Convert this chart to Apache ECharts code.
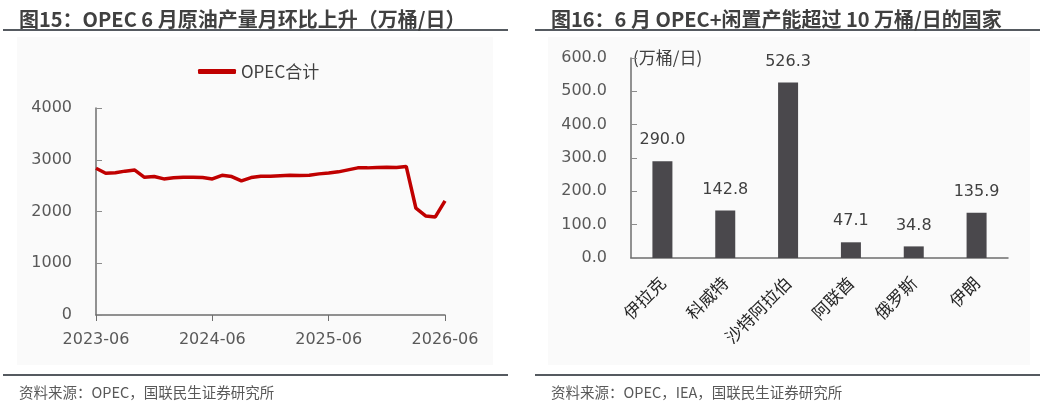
<!DOCTYPE html>
<html>
<head>
<meta charset="utf-8">
<script src="https://cdn.jsdelivr.net/npm/echarts@6/dist/echarts.min.js"></script>
<style>
html,body{margin:0;padding:0;background:#fff;}
#main{width:1047px;height:410px;}
</style>
</head>
<body>
<div id="main"></div>
<script>
"use strict";

/*****Data start*****/
var months = [
	'2023-06','2023-07','2023-08','2023-09','2023-10','2023-11','2023-12',
	'2024-01','2024-02','2024-03','2024-04','2024-05','2024-06','2024-07','2024-08','2024-09','2024-10','2024-11','2024-12',
	'2025-01','2025-02','2025-03','2025-04','2025-05','2025-06','2025-07','2025-08','2025-09','2025-10','2025-11','2025-12',
	'2026-01','2026-02','2026-03','2026-04','2026-05','2026-06'
];
var opecTotal = [
	2835, 2740, 2750, 2780, 2800, 2660, 2675,
	2630, 2650, 2663, 2663, 2655, 2630, 2700, 2675, 2590, 2655, 2680, 2680,
	2690, 2700, 2695, 2700, 2727, 2746, 2766, 2805, 2843, 2843, 2850, 2856,
	2850, 2870, 2063, 1915, 1895, 2205
];
var countries = ['伊拉克', '科威特', '沙特阿拉伯', '阿联酋', '俄罗斯', '伊朗'];
var spareCapacity = [290.0, 142.8, 526.3, 47.1, 34.8, 135.9];
/*****Data end*****/

var font = "'Noto Sans CJK SC', 'Noto Sans', sans-serif";
var numFont = "'DejaVu Sans', 'Noto Sans CJK SC', sans-serif";
var axisColor = '#595959';

var chart = echarts.init(document.getElementById('main'));
var option = {
	animation: false,
	textStyle: { fontFamily: font },
	title: [
		{
			text: '图15：OPEC 6 月原油产量月环比上升（万桶/日）',
			left: 14, top: 4,
			textStyle: { fontSize: 20, fontWeight: 'bold', color: '#404040', fontFamily: font }
		},
		{
			text: '图16：6 月 OPEC+闲置产能超过 10 万桶/日的国家',
			left: 546, top: 4,
			textStyle: { fontSize: 20, fontWeight: 'bold', color: '#404040', fontFamily: font }
		},
		{
			text: '资料来源：OPEC，国联民生证券研究所',
			left: 14, top: 380,
			textStyle: { fontSize: 14.5, fontWeight: 'normal', color: '#595959', fontFamily: font }
		},
		{
			text: '资料来源：OPEC，IEA，国联民生证券研究所',
			left: 546, top: 380,
			textStyle: { fontSize: 14.5, fontWeight: 'normal', color: '#595959', fontFamily: font }
		}
	],
	graphic: [
		{ type: 'rect', z: -10, shape: { x: 17, y: 37, width: 476, height: 328 }, style: { fill: '#fafafa' } },
		{ type: 'rect', z: -10, shape: { x: 548, y: 37, width: 482, height: 328 }, style: { fill: '#fafafa' } },
		{ type: 'line', shape: { x1: 3, y1: 30, x2: 508, y2: 30 }, style: { stroke: '#555a60', lineWidth: 2 } },
		{ type: 'line', shape: { x1: 535, y1: 30, x2: 1040, y2: 30 }, style: { stroke: '#555a60', lineWidth: 2 } },
		{ type: 'line', shape: { x1: 3, y1: 375, x2: 508, y2: 375 }, style: { stroke: '#555a60', lineWidth: 2 } },
		{ type: 'line', shape: { x1: 535, y1: 375, x2: 1040, y2: 375 }, style: { stroke: '#555a60', lineWidth: 2 } },
		{
			type: 'text', left: 633, top: 49,
			style: { text: '(万桶/日)', fontSize: 17, fill: '#404040', fontFamily: font }
		}
	],
	legend: {
		data: ['OPEC合计'],
		left: 193, top: 58,
		icon: 'roundRect',
		itemWidth: 38, itemHeight: 5,
		itemGap: 6,
		textStyle: { fontSize: 17, color: '#404040', fontFamily: font }
	},
	grid: [
		{ left: 96, top: 108, width: 349, height: 207, containLabel: false },
		{ left: 631, top: 58, width: 377, height: 200, containLabel: false }
	],
	xAxis: [
		{
			gridIndex: 0,
			type: 'category',
			data: months,
			boundaryGap: false,
			axisLine: { lineStyle: { color: '#6e6e6e', width: 1.5 } },
			axisTick: { interval: 11, length: 6, lineStyle: { color: '#6e6e6e' } },
			axisLabel: { interval: 11, fontSize: 16, color: axisColor, margin: 17, fontFamily: numFont }
		},
		{
			gridIndex: 1,
			type: 'category',
			data: countries,
			axisLine: { lineStyle: { color: '#6e6e6e', width: 1.5 } },
			axisTick: { show: false },
			axisLabel: { rotate: 45, fontSize: 17, color: '#262626', margin: 22, fontFamily: font }
		}
	],
	yAxis: [
		{
			gridIndex: 0,
			type: 'value',
			min: 0, max: 4000, interval: 1000,
			axisLine: { show: true, lineStyle: { color: '#6e6e6e', width: 1.5 } },
			axisTick: { show: true, inside: true, length: 6, lineStyle: { color: '#8c8c8c' } },
			splitLine: { show: false },
			axisLabel: {
				fontSize: 16, color: axisColor, margin: 24, fontFamily: numFont,
				formatter: function (v) { return String(v); }
			}
		},
		{
			gridIndex: 1,
			type: 'value',
			min: 0, max: 600, interval: 100,
			axisLine: { show: true, lineStyle: { color: '#6e6e6e', width: 1.5 } },
			axisTick: { show: true, inside: true, length: 6, lineStyle: { color: '#8c8c8c' } },
			splitLine: { show: false },
			axisLabel: {
				fontSize: 16, color: axisColor, margin: 24, fontFamily: numFont,
				formatter: function (v) { return v.toFixed(1); }
			}
		}
	],
	series: [
		{
			name: 'OPEC合计',
			type: 'line',
			xAxisIndex: 0, yAxisIndex: 0,
			data: opecTotal,
			symbol: 'none',
			lineStyle: { color: '#c00000', width: 3.5 },
			itemStyle: { color: '#c00000' }
		},
		{
			name: '闲置产能',
			type: 'bar',
			xAxisIndex: 1, yAxisIndex: 1,
			data: spareCapacity,
			barWidth: 20,
			itemStyle: { color: '#4a484c' },
			label: {
				show: true,
				position: 'top',
				distance: 13,
				fontSize: 16,
				color: '#404040',
				fontFamily: numFont,
				formatter: function (p) { return p.value.toFixed(1); }
			}
		}
	]
};
chart.setOption(option);
</script>
</body>
</html>
